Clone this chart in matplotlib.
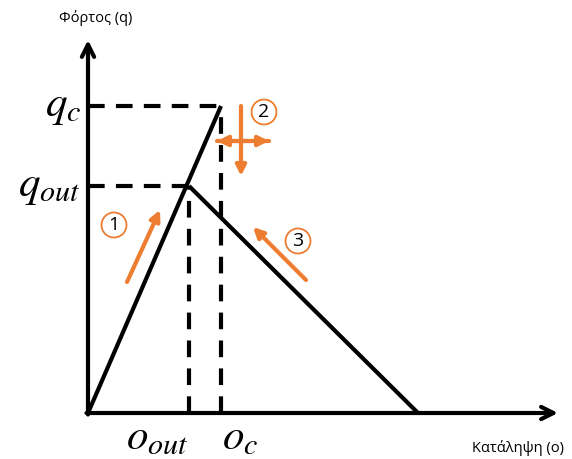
import matplotlib
matplotlib.use('Agg')
from matplotlib import pyplot as plt

plt.rcParams['mathtext.fontset'] = 'stix'

# diagram values (same units as the drawing, origin at the axes corner)
o_out, o_c, o_end = 101, 133, 330
q_out, q_c = 227, 307
x_max, y_max = 470, 373

# orange indicator arrows: (start, end)
arrows = [((39, 131), (72, 203)),
          ((129, 272), (181, 272)),
          ((181, 272), (129, 272)),
          ((153, 307), (153, 237)),
          ((218, 133), (165, 186))]
circles = [('1', 26, 188), ('2', 176, 301), ('3', 210, 172)]

orange = '#ED7D31'

fig = plt.figure(figsize=(5.72, 4.59), dpi=100)
ax = fig.add_axes([0, 0, 1, 1])
ax.set_xlim(-88, 484)
ax.set_ylim(-46, 413)
ax.axis('off')

# axes with open arrow heads
ax.annotate('', xy=(x_max, 0), xytext=(-1.5, 0),
            arrowprops=dict(arrowstyle='->', lw=3, color='black', mutation_scale=22,
                            shrinkA=0, shrinkB=0))
ax.annotate('', xy=(0, y_max), xytext=(0, -1.5),
            arrowprops=dict(arrowstyle='->', lw=3, color='black', mutation_scale=22,
                            shrinkA=0, shrinkB=0))

# dashed guides
dash = dict(color='black', lw=3, linestyle=(0, (4, 2.7)))
ax.plot([0, o_c], [q_c, q_c], **dash)
ax.plot([0, o_out], [q_out, q_out], **dash)
ax.plot([o_out, o_out], [0, q_out], **dash)
ax.plot([o_c, o_c], [0, q_c], **dash)

# main curve
ax.plot([0, o_c], [0, q_c], color='black', lw=3, solid_capstyle='butt')
ax.plot([o_out, o_end], [q_out, 0], color='black', lw=3, solid_capstyle='butt')

for (x0, y0), (x1, y1) in arrows:
    ax.annotate('', xy=(x1, y1), xytext=(x0, y0),
                arrowprops=dict(arrowstyle='-|>', lw=3, color=orange, mutation_scale=15,
                                shrinkA=0, shrinkB=0))

for t, x, y in circles:
    ax.text(x, y, t, ha='center', va='center', fontsize=14, family='Open Sans',
            bbox=dict(boxstyle='circle,pad=0.18', fc='white', ec=orange, lw=1.3))

# labels
ax.text(-7, q_c, '$q_c$', ha='right', va='center', fontsize=31)
ax.text(-7, q_out, '$q_{out}$', ha='right', va='center', fontsize=31)
ax.text(69, -24, '$o_{out}$', ha='center', va='center', fontsize=31)
ax.text(152, -24, '$o_c$', ha='center', va='center', fontsize=31)
ax.text(8, 395, 'Φόρτος (q)', ha='center', va='center', fontsize=10.5, family='Open Sans')
ax.text(430, -35, 'Κατάληψη (ο)', ha='center', va='center', fontsize=10.5, family='Open Sans')

fig.savefig('out.png', dpi=100)
